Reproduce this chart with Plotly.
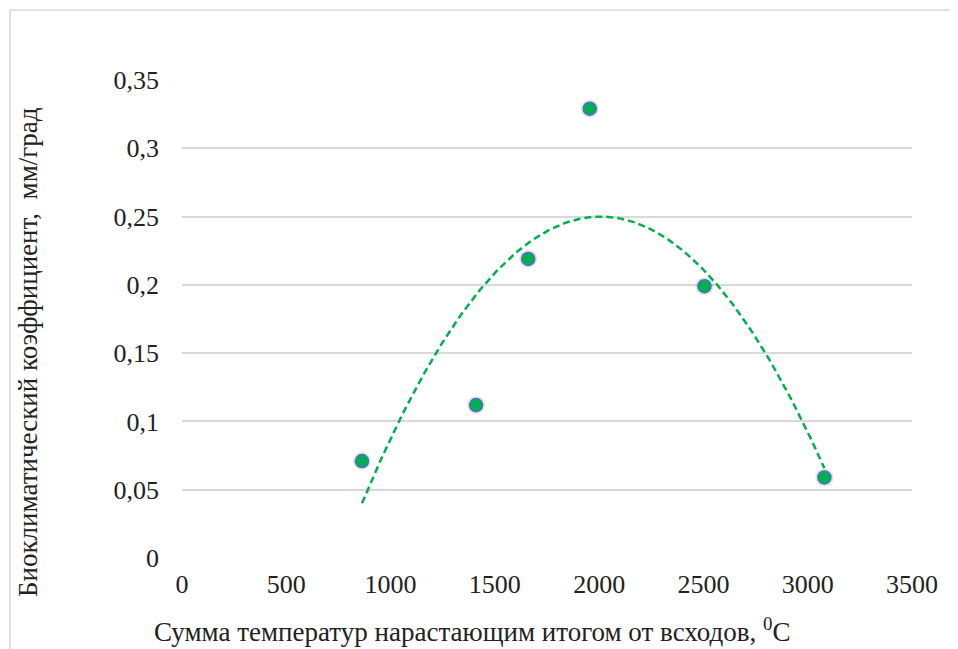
import numpy as np
import plotly.graph_objects as go

# Data
temp_sum = [863, 1410, 1660, 1955, 2505, 3080]
bio_coef = [0.071, 0.112, 0.219, 0.329, 0.199, 0.059]

y_tickvals = [0, 0.05, 0.1, 0.15, 0.2, 0.25, 0.3, 0.35]
y_ticktext = ["0", "0,05", "0,1", "0,15", "0,2", "0,25", "0,3", "0,35"]
x_tickvals = [0, 500, 1000, 1500, 2000, 2500, 3000, 3500]
x_ticktext = ["0", "500", "1000", "1500", "2000", "2500", "3000", "3500"]

x_title = "Сумма температур нарастающим итогом от всходов, <sup>0</sup>С"
y_title = "Биоклиматический коэффициент,  мм/град"

# Polynomial (order 2) trendline as in Excel
coef = np.polyfit(temp_sum, bio_coef, 2)
tx = np.linspace(min(temp_sum), max(temp_sum), 200)
ty = np.polyval(coef, tx)

GREEN = "#00B050"
FONT = "Liberation Serif"
TXT = "#222222"
TICK_SIZE = 26
TITLE_SIZE = 27

# page body has an 8px margin, so the figure is offset by (8, 8)
OFF = 8
L, R, T, B = 182 - OFF, 46, 80 - OFF, 91
W, H = 958 - OFF, 649 - OFF
PW, PH = 730, 478  # plot area size in px


def px_x(px):
    return (px - 182) / PW


def px_y(py):
    return (558 - py) / PH


fig = go.Figure()
fig.add_trace(go.Scatter(x=tx, y=ty, mode="lines",
                         line=dict(color=GREEN, width=2.5, dash="7px,4px"),
                         hoverinfo="skip", showlegend=False))
# soft shadow under markers
fig.add_trace(go.Scatter(x=temp_sum, y=bio_coef, mode="markers",
                         marker=dict(size=18, color="rgba(60,60,60,0.14)", line=dict(width=0)),
                         hoverinfo="skip", showlegend=False))
fig.add_trace(go.Scatter(x=temp_sum, y=bio_coef, mode="markers",
                         marker=dict(size=13, color=GREEN, line=dict(color="#4472C4", width=1.5)),
                         showlegend=False))

fig.update_layout(
    width=W, height=H,
    margin=dict(l=L, r=R, t=T, b=B, pad=0),
    paper_bgcolor="white", plot_bgcolor="white",
    font=dict(family=FONT, size=TICK_SIZE, color=TXT),
    xaxis=dict(range=[0, 3500], tickvals=x_tickvals, ticktext=x_ticktext,
               showgrid=False, zeroline=False, showline=False, ticks="",
               ticklabelstandoff=8, tickfont=dict(size=TICK_SIZE, family=FONT, color=TXT)),
    yaxis=dict(range=[0, 0.35], tickvals=y_tickvals, ticktext=y_ticktext,
               showgrid=True, gridcolor="#d9d9d9", gridwidth=1.5,
               zeroline=False, showline=False, ticks="",
               ticklabelstandoff=22, tickfont=dict(size=TICK_SIZE, family=FONT, color=TXT)),
    shapes=[dict(type="rect", xref="paper", yref="paper",
                 x0=px_x(10), x1=px_x(975),
                 y0=px_y(670), y1=px_y(10),
                 line=dict(color="#d9d9d9", width=1.5), fillcolor="rgba(0,0,0,0)", layer="below")],
    annotations=[
        dict(text=x_title, xref="paper", yref="paper", x=px_x(472), y=px_y(630),
             xanchor="center", yanchor="middle", showarrow=False,
             font=dict(size=TITLE_SIZE, family=FONT, color=TXT)),
        dict(text=y_title, xref="paper", yref="paper", x=px_x(28), y=px_y(352),
             xanchor="center", yanchor="middle", showarrow=False, textangle=-90,
             font=dict(size=TITLE_SIZE, family=FONT, color=TXT)),
    ],
)

fig.write_html("out.html")
